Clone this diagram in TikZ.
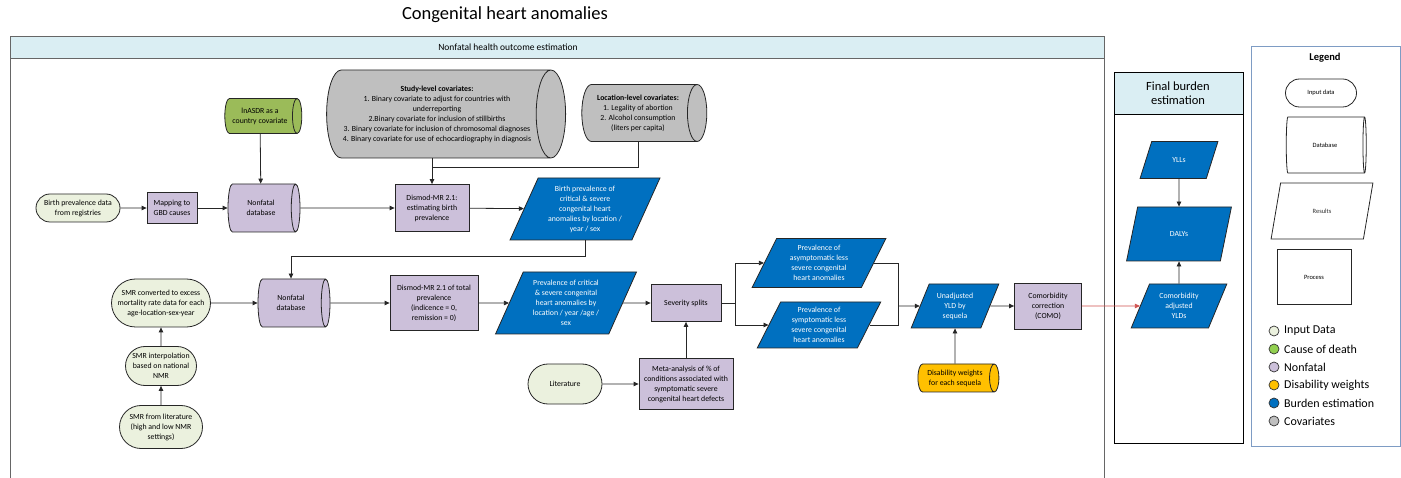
\documentclass[tikz,border=0pt]{standalone}
\usepackage{fontspec}
\setmainfont{Carlito}
\usetikzlibrary{shapes.geometric, shapes.misc, arrows.meta}

\definecolor{inputgreen}{HTML}{EBF1DE}
\definecolor{deathgreen}{HTML}{9BBB59}
\definecolor{causegreen}{HTML}{92D050}
\definecolor{nonfatal}{HTML}{CCC0DA}
\definecolor{dwyellow}{HTML}{FFC000}
\definecolor{burdenblue}{HTML}{0070C0}
\definecolor{covgray}{HTML}{BFBFBF}
\definecolor{headblue}{HTML}{DAEEF3}
\definecolor{legendframe}{HTML}{7E9CC4}
\definecolor{comored}{HTML}{D0504D}

\tikzset{
  every node/.style={font=\fontsize{7.8}{10}\selectfont, align=center, inner sep=1pt},
  inputbox/.style={rounded rectangle, draw=black!85, line width=0.8pt, fill=inputgreen},
  procbox/.style={rectangle, draw=black!85, line width=0.8pt, fill=nonfatal},
  % cylinder lies on its side: minimum height is its length, minimum width its girth
  dbase/.style={cylinder, shape border rotate=0, aspect=0.5, draw=black!85,
    line width=0.8pt, fill=nonfatal},
  result/.style={trapezium, trapezium stretches=true, trapezium left angle=#1,
    trapezium right angle=180-#1, draw=black!85, line width=0.8pt,
    fill=burdenblue, text=white},
  result/.default=65,
  arrow/.style={-{Triangle[length=5pt,width=4.5pt]}, line width=0.8pt, black!85},
  link/.style={line width=0.8pt, black!85}
}

\begin{document}
\begin{tikzpicture}[x=1pt, y=-1pt]
  \useasboundingbox (0,0) rectangle (1401,478);

  % --- title and the two frames
  \node[font=\fontsize{18.5}{22}\selectfont] (title) at (505,15) {Congenital heart anomalies};

  \draw[black!60, line width=0.9pt] (10,478) -- (10,36) -- (1104,36) -- (1104,478);
  \draw[black!60, line width=0.9pt, fill=headblue] (10,36) rectangle (1104,58);
  \node[font=\fontsize{9.5}{11}\selectfont] (nfhead) at (508,47) {Nonfatal health outcome estimation};

  \draw[line width=0.7pt] (1114,72) rectangle (1243,443);
  \draw[line width=0.7pt, fill=headblue] (1114,72) rectangle (1243,114);
  \node[font=\fontsize{12.5}{14.5}\selectfont] (fbhead) at (1178,93) {Final burden\\estimation};

  % --- covariates
  \node[dbase, fill=deathgreen, minimum height=77, minimum width=35] (lnasdr) at (260,116)
    {lnASDR as a\\country covariate};
  \node[dbase, fill=covgray, minimum height=239, minimum width=88] (studycov) at (437,114)
    {\textbf{Study-level covariates:}\\
     1. Binary covariate to adjust for countries with\\underreporting\\
     2.Binary covariate for inclusion of stillbirths\\
     3. Binary covariate for inclusion  of chromosomal diagnoses\\
     4. Binary covariate for use of echocardiography in diagnosis};
  \node[dbase, fill=covgray, minimum height=125, minimum width=57] (loccov) at (638,113)
    {\textbf{Location-level covariates:}\\1. Legality of abortion\\2. Alcohol consumption\\(liters per capita)};

  % --- birth prevalence row
  \node[inputbox, minimum width=86, minimum height=28] (birthdata) at (78,208)
    {Birth prevalence data\\from registries};
  \node[procbox, minimum width=50, minimum height=31] (mapping) at (172,208) {Mapping to\\GBD causes};
  \node[dbase, minimum height=72, minimum width=48] (nfdba) at (261,208) {Nonfatal\\database};
  \node[procbox, minimum width=74, minimum height=47] (dismodbirth) at (432,208)
    {Dismod-MR 2.1:\\estimating birth\\prevalence};
  \node[result, minimum width=150, minimum height=62] (birthprev) at (585,209)
    {Birth prevalence of\\critical \& severe\\congenital heart\\anomalies by location /\\year / sex};

  % --- total prevalence row
  \node[inputbox, minimum width=101, minimum height=48] (smrconv) at (161,303)
    {SMR converted to excess\\mortality rate data for each\\age-location-sex-year};
  \node[inputbox, minimum width=73, minimum height=39] (smrinterp) at (161,366)
    {SMR interpolation\\based on national\\NMR};
  \node[inputbox, minimum width=85, minimum height=43] (smrlit) at (161,427)
    {SMR from literature\\(high and low NMR\\settings)};
  \node[dbase, minimum height=72, minimum width=48] (nfdbb) at (291,303) {Nonfatal\\database};
  \node[procbox, minimum width=88, minimum height=55] (dismodtot) at (434,303)
    {Dismod-MR 2.1 of total\\prevalence\\(indicence = 0,\\remission = 0)};
  \node[result, minimum width=141, minimum height=62] (prevcrit) at (566,303)
    {Prevalence of critical\\\& severe congenital\\heart anomalies by\\location / year /age /\\sex};
  \node[procbox, minimum width=70, minimum height=37] (severity) at (686,303) {Severity splits};
  \node[inputbox, minimum width=76, minimum height=40] (literature) at (565,384) {Literature};
  \node[procbox, minimum width=94, minimum height=51] (meta) at (686,384)
    {Meta-analysis of \% of\\conditions associated with\\symptomatic severe\\congenital heart defects};

  % --- splits and YLDs
  \node[result, minimum width=134, minimum height=49] (prevasym) at (819,263)
    {Prevalence of\\asymptomatic less\\severe congenital\\heart anomalies};
  \node[result, minimum width=124, minimum height=46] (prevsym) at (819,325)
    {Prevalence of\\symptomatic less\\severe congenital\\heart anomalies};
  \node[result, minimum width=88, minimum height=44] (unadj) at (955,306) {Unadjusted\\YLD by\\sequela};
  \node[dbase, fill=dwyellow, minimum height=81, minimum width=28] (dweights) at (955,378)
    {Disability weights\\for each sequela};
  \node[procbox, minimum width=67, minimum height=46] (como) at (1048,306)
    {Comorbidity\\correction\\(COMO)};

  % --- final burden
  \node[result, minimum width=78, minimum height=37] (ylls) at (1179,160) {YLLs};
  \node[result=69, minimum width=105, minimum height=54] (dalys) at (1179,234) {DALYs};
  \node[result, minimum width=96, minimum height=44] (comoyld) at (1179,306)
    {Comorbidity\\adjusted\\YLDs};

  % --- connectors
  \draw[arrow] (birthdata) -- (mapping);
  \draw[arrow] (mapping) -- (nfdba);
  \draw[arrow] (lnasdr) -- (nfdba);
  \draw[arrow] (nfdba) -- (dismodbirth);
  \draw[arrow] (studycov.south -| dismodbirth.north) -- (dismodbirth);
  \draw[link] (loccov.south) |- (dismodbirth.north |- 0,167);
  \draw[arrow] (dismodbirth) -- (birthprev);
  \draw[arrow] (birthprev.south) -- (birthprev.south |- 0,256) -| (nfdbb.north);

  \draw[arrow] (smrlit) -- (smrinterp);
  \draw[arrow] (smrinterp) -- (smrconv);
  \draw[arrow] (smrconv) -- (nfdbb);
  \draw[arrow] (nfdbb) -- (dismodtot);
  \draw[arrow] (dismodtot) -- (prevcrit);
  \draw[arrow] (prevcrit) -- (severity);
  \draw[arrow] (literature) -- (meta);
  \draw[arrow] (meta) -- (severity);

  \coordinate (split) at (735,303);
  \coordinate (join) at (898,306);
  \draw[link] (severity) -- (split);
  \draw[arrow] (split) |- (prevasym);
  \draw[arrow] (split) |- (prevsym);
  \draw[link] (prevasym.east) -| (join);
  \draw[link] (prevsym.east) -| (join);
  \draw[arrow] (join) -- (unadj);
  \draw[arrow] (dweights) -- (unadj);
  \draw[arrow] (unadj) -- (como);
  \draw[arrow, comored] (como) -- (comoyld);
  \draw[arrow] (ylls) -- (dalys);
  \draw[arrow] (comoyld) -- (dalys);

  % --- legend
  \draw[legendframe, line width=0.9pt] (1251,46) rectangle (1400,446);
  \node[font=\fontsize{10.5}{12}\selectfont\bfseries] (legtitle) at (1325,58) {Legend};
  \begin{scope}[every node/.append style={font=\fontsize{6.5}{8}\selectfont}]
    \node[inputbox, fill=white, minimum width=73, minimum height=28] (leginput) at (1321,93) {Input data};
    \node[dbase, fill=white, minimum height=80, minimum width=56] (legdb) at (1325,145) {Database};
    \node[result=70, fill=white, text=black!80, minimum width=102, minimum height=56] (legres)
      at (1322,211) {Results};
    \node[procbox, fill=white, minimum width=74, minimum height=55] (legproc) at (1314,277) {Process};
  \end{scope}
  \foreach \c/\t [count=\i] in {inputgreen/Input Data, causegreen/Cause of death,
      nonfatal/Nonfatal, dwyellow/Disability weights, burdenblue/Burden estimation,
      covgray/Covariates}{
    \draw[black!80, line width=0.7pt, fill=\c] (1274,313+18*\i) circle (5);
    \node[anchor=west, font=\fontsize{12}{14}\selectfont] (leg\i) at (1283,313+18*\i) {\t};
  }
\end{tikzpicture}
\end{document}
